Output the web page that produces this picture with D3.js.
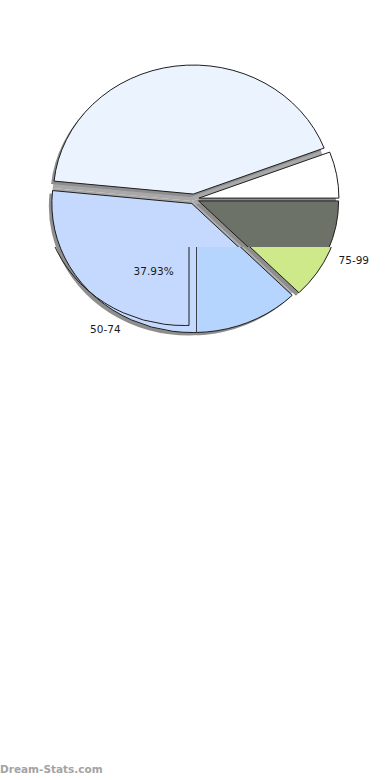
<!DOCTYPE html>
<html>
<head>
<meta charset="utf-8">
<script src="https://cdn.jsdelivr.net/npm/d3@7"></script>
<style>
body { margin: 0; background: #fff; }
text { font-family: "DejaVu Sans", sans-serif; }
</style>
</head>
<body>
<svg id="chart" width="390" height="780"></svg>
<script>
// slices, clockwise from 3 o'clock
var categories = ["75-99", "50-74", "", ""];
var values = [12.6, 39.0, 42.6, 5.8];
var percentLabels = ["", "37.93%", "", ""];
var colors = ["#6c7268", "#c5d9ff", "#ebf3ff", "#ffffff"];
var tileColors = ["#cde98a", "#b5d5ff", "#ebf3ff", "#ffffff"];

var width = 390, height = 780;
var cx = 194, cy = 199;
var rx = 140, ry = 129, sy = ry / rx;
var explode = 5;
var labelTurn = 0.035;
// the picture is put together from tiles that do not line up
var cutX = 197, cutY = 247;

var svg = d3.select("#chart");
var defs = svg.append("defs");

defs.append("filter").attr("id", "soft")
    .append("feGaussianBlur").attr("stdDeviation", 0.7);

var pie = d3.pie().sort(null)
    .startAngle(Math.PI / 2)
    .endAngle(Math.PI / 2 + 2 * Math.PI);
var slices = pie(values);
var arc = d3.arc().innerRadius(0).outerRadius(rx);

function mid(d) { return (d.startAngle + d.endAngle) / 2; }
function origin(d, k) {
    var a = mid(d);
    if (k === undefined) k = explode;
    return [cx + k * Math.sin(a), cy - k * Math.cos(a)];
}
function sliceTransform(d, dx, dy, k) {
    var o = origin(d, k);
    return "translate(" + (o[0] + dx) + "," + (o[1] + dy) + ") scale(1," + sy + ")";
}

function clipRect(id, x, y, w, h) {
    defs.append("clipPath").attr("id", id)
        .append("rect").attr("x", x).attr("y", y).attr("width", w).attr("height", h);
}
clipRect("top", 0, 0, width, cutY);
clipRect("lowLeft", 0, cutY, cutX, height - cutY);
clipRect("lowRight", cutX, cutY, width - cutX, height - cutY);

defs.append("clipPath").attr("id", "slice2")
    .append("path")
    .attr("d", arc(slices[1]))
    .attr("transform", sliceTransform(slices[1], 0, 0));

function drawPie(g, fills, dx, dy) {
    // shadow of the closed pie fills the gaps
    g.selectAll("path.under").data(slices).enter().append("path")
        .attr("class", "under")
        .attr("d", arc)
        .attr("transform", function(d) { return sliceTransform(d, dx - 2, dy + 2, 0); })
        .attr("fill", "#a8a8a8")
        .attr("filter", "url(#soft)");
    g.selectAll("path.shadow").data(slices).enter().append("path")
        .attr("class", "shadow")
        .attr("d", arc)
        .attr("transform", function(d) { return sliceTransform(d, dx - 3, dy + 3); })
        .attr("fill", "#8e8e8e")
        .attr("filter", "url(#soft)");
    g.selectAll("path.slice").data(slices).enter().append("path")
        .attr("class", "slice")
        .attr("d", arc)
        .attr("transform", function(d) { return sliceTransform(d, dx, dy); })
        .attr("fill", function(d, i) { return fills[i]; })
        .attr("stroke", "#1e1e1e")
        .attr("stroke-width", 1)
        .attr("vector-effect", "non-scaling-stroke");
}

var topTile = svg.append("g").attr("clip-path", "url(#top)");
drawPie(topTile, colors, 0, 0);

var leftTile = svg.append("g").attr("clip-path", "url(#lowLeft)");
drawPie(leftTile, colors, 0, 0);
// stray copy of the tile outline, shifted up and left
var ghost = leftTile.append("g").attr("transform", "translate(-8,-7)");
ghost.append("g").attr("clip-path", "url(#lowLeft)")
    .append("path")
    .attr("d", arc(slices[1]))
    .attr("transform", sliceTransform(slices[1], 0, 0))
    .attr("fill", "none")
    .attr("stroke", "#1e1e1e")
    .attr("vector-effect", "non-scaling-stroke");
ghost.append("g").attr("clip-path", "url(#slice2)")
    .append("line")
    .attr("x1", cutX).attr("x2", cutX)
    .attr("y1", cutY).attr("y2", height)
    .attr("stroke", "#1e1e1e");
leftTile.append("g").attr("clip-path", "url(#slice2)")
    .append("line")
    .attr("x1", cutX - 0.5).attr("x2", cutX - 0.5)
    .attr("y1", cutY).attr("y2", height)
    .attr("stroke", "#3c424c");

var rightTile = svg.append("g").attr("clip-path", "url(#lowRight)");
drawPie(rightTile, tileColors, 2, 0);

// labels
var labels = svg.append("g").attr("font-size", "10.5px").attr("fill", "#1a1a1a");

labels.selectAll("text.cat").data(slices).enter().append("text")
    .attr("class", "cat")
    .filter(function(d, i) { return categories[i] !== ""; })
    .each(function(d) {
        var o = origin(d), a = mid(d) + labelTurn, k = 1.1;
        d3.select(this)
            .attr("x", o[0] + k * rx * Math.sin(a))
            .attr("y", o[1] - k * ry * Math.cos(a))
            .attr("dy", "0.35em")
            .attr("text-anchor", Math.sin(a) >= 0 ? "start" : "end")
            .text(categories[slices.indexOf(d)]);
    });

labels.selectAll("text.pct").data(slices).enter().append("text")
    .attr("class", "pct")
    .filter(function(d, i) { return percentLabels[i] !== ""; })
    .each(function(d) {
        var o = origin(d), a = mid(d) + labelTurn, k = 0.59;
        d3.select(this)
            .attr("x", o[0] + k * rx * Math.sin(a))
            .attr("y", o[1] - k * ry * Math.cos(a))
            .attr("dy", "0.35em")
            .attr("text-anchor", "middle")
            .text(percentLabels[slices.indexOf(d)]);
    });

svg.append("text")
    .attr("x", 0).attr("y", 773)
    .attr("font-size", "10.5px")
    .attr("font-weight", "bold")
    .attr("fill", "#a3a3a3")
    .text("Dream-Stats.com");
</script>
</body>
</html>
